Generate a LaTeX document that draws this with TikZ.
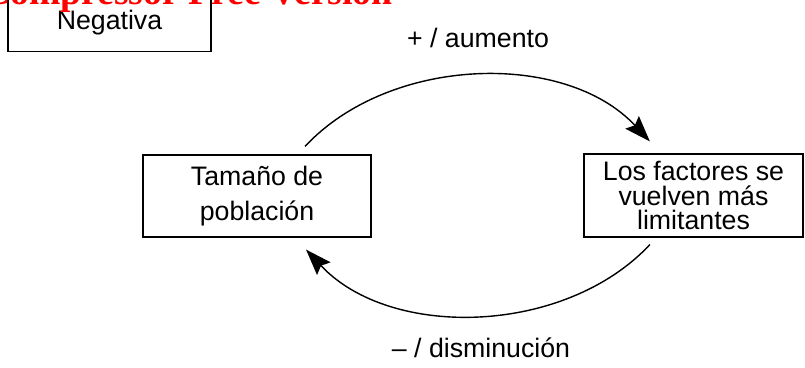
\documentclass[tikz,border=0pt]{standalone}
\usepackage{fontspec}
\setmainfont{Liberation Sans}
\newfontfamily\wmfont{Liberation Serif}
\usetikzlibrary{arrows.meta}
\begin{document}
\begin{tikzpicture}[x=0.025cm, y=0.025cm, >={Stealth[length=6.5mm,width=4.6mm,inset=1mm]}]
\tikzstyle{every node}=[font=\fontsize{19}{25}\selectfont, align=center]
\tikzstyle{caja}=[draw, line width=0.8pt, rectangle, inner sep=0pt]
\useasboundingbox (0,0) rectangle (805,368);
\node[caja, anchor=south, minimum width=5.075cm, text height=1.5cm, text depth=0.55cm](neg) at (109.5,316) {Negativa};
\node[caja, minimum width=5.7cm, minimum height=2.05cm](tam) at (257,172) {Tama\~no de\\poblaci\'on};
\node[caja, minimum width=5.475cm, minimum height=2.075cm, font=\fontsize{19}{17.6}\selectfont](fac) at (693.5,172.5) {Los factores se\\vuelven m\'as\\limitantes};
\node[anchor=base](mas) at (478,320) {+ / aumento};
\node[anchor=base](menos) at (481,10) {-- / disminuci\'on};
\draw[->, line width=1pt] ([xshift=1.2cm,yshift=0.2cm]tam.north) to[out=47,in=133,looseness=0.92] ([xshift=-1.09cm,yshift=0.3cm]fac.north);
\draw[->, line width=1pt] ([xshift=-1.09cm,yshift=-0.175cm]fac.south) to[out=-133,in=-47,looseness=0.92] ([xshift=1.225cm,yshift=-0.3cm]tam.south);
\node[anchor=base east, inner sep=0pt, text=red, font=\wmfont\bfseries\fontsize{26.8}{30}\selectfont](marca) at (393,363) {Compressor Free Version};
\end{tikzpicture}
\end{document}
